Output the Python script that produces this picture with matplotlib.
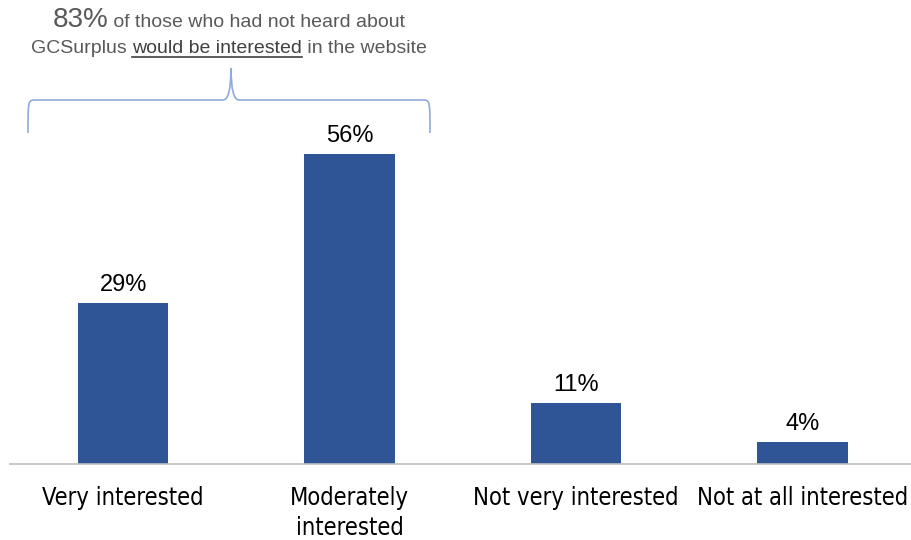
import matplotlib
matplotlib.use("Agg")
import matplotlib.pyplot as plt
from matplotlib.path import Path
from matplotlib.patches import PathPatch

# chart data
categories = ["Very interested", "Moderately\ninterested", "Not very interested", "Not at all interested"]
values = [29, 56, 11, 4]
value_labels = ["29%", "56%", "11%", "4%"]

note_big = "83%"
note_rest1 = " of those who had not heard about"
note_start2 = "GCSurplus "
note_under = "would be interested"
note_end2 = " in the website"

bar_color = "#2F5597"
grey = "#595959"
brace_color = "#8FAADC"

W, H = 911, 540
fig = plt.figure(figsize=(W / 100, H / 100), dpi=100)
ax = fig.add_axes([10 / W, (H - 464) / H, 1 - 10 / W, 364 / H])

x = range(len(values))
bars = ax.bar(x, values, width=0.4, color=bar_color)
ax.set_xlim(-0.5, 3.48)
ax.set_ylim(0, 65.75)

for b, lab in zip(bars, value_labels):
    ax.text(b.get_x() + b.get_width() / 2, b.get_height() + 1.3, lab,
            ha="center", va="bottom", fontsize=17, family="Liberation Sans", color="black")

ax.set_xticks(list(x))
ax.set_xticklabels(categories, fontsize=17, family="DejaVu Sans", fontstretch="condensed",
                   linespacing=1.3, va="top")
ax.tick_params(axis="x", length=0, pad=16)
ax.set_yticks([])
for s in ["top", "left", "right"]:
    ax.spines[s].set_visible(False)
ax.spines["bottom"].set_color("#BFBFBF")
ax.spines["bottom"].set_linewidth(1.2)

# annotation text at the top, built from pieces (pixel coords)
fig.canvas.draw()
r = fig.canvas.get_renderer()

def width_of(t):
    return t.get_window_extent(renderer=r).width

def px(xp, yp):
    return xp / W, 1 - yp / H

tfont = "Liberation Sans"
cx = 229
t1 = fig.text(0, 0, note_big, fontsize=20, family=tfont, color=grey, va="baseline")
t2 = fig.text(0, 0, note_rest1, fontsize=14, family=tfont, color=grey, va="baseline")
w1 = width_of(t1) + width_of(t2)
x0 = cx - w1 / 2
t1.set_position(px(x0, 27))
t2.set_position(px(x0 + width_of(t1), 27))

p1 = fig.text(0, 0, note_start2, fontsize=14, family=tfont, color=grey, va="baseline")
p2 = fig.text(0, 0, note_under, fontsize=14, family=tfont, color="#404040", va="baseline")
p3 = fig.text(0, 0, note_end2, fontsize=14, family=tfont, color=grey, va="baseline")
wa, wb, wc = width_of(p1), width_of(p2), width_of(p3)
x0 = cx - (wa + wb + wc) / 2
p1.set_position(px(x0, 53))
p2.set_position(px(x0 + wa, 53))
p3.set_position(px(x0 + wa + wb, 53))
fig.add_artist(plt.Line2D([(x0 + wa) / W, (x0 + wa + wb) / W], [1 - 57 / H, 1 - 57 / H],
                          color="#404040", lw=1.2, transform=fig.transFigure))

# curly brace
L, R, M, top, mid, bot = 28, 430, 231, 68, 100, 133
verts = [px(L, bot), px(L, mid), px(L, mid), px(L + 8, mid),
         px(M - 8, mid), px(M, mid), px(M, top),
         px(M, mid), px(M + 8, mid),
         px(R - 8, mid), px(R, mid), px(R, mid), px(R, bot)]
codes = [Path.MOVETO, Path.CURVE4, Path.CURVE4, Path.CURVE4,
         Path.LINETO, Path.CURVE3, Path.CURVE3,
         Path.CURVE3, Path.CURVE3,
         Path.LINETO, Path.CURVE4, Path.CURVE4, Path.CURVE4]
fig.add_artist(PathPatch(Path(verts, codes), fill=False, edgecolor=brace_color, lw=1.2,
                         transform=fig.transFigure))

fig.savefig("out.png", dpi=100)
